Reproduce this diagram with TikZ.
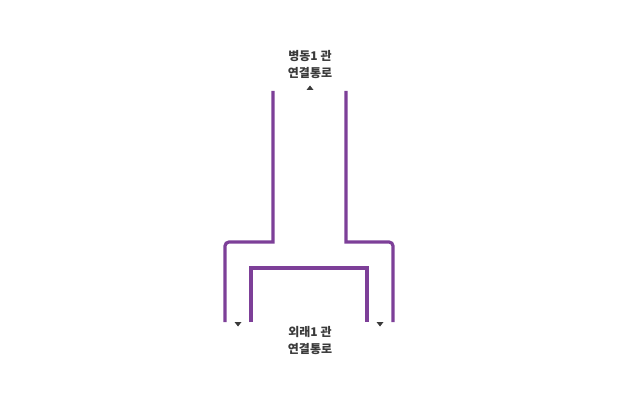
\documentclass[tikz,border=0pt]{standalone}
\usepackage{fontspec}
\newfontfamily\krfont{Noto Sans CJK KR}
\usepackage{tikz}
\usetikzlibrary{calc}
\definecolor{corridor}{HTML}{7D3F98}
\definecolor{labelgray}{HTML}{3A3A3A}
\tikzset{
	passage/.style={draw=corridor, line width=3.2pt},
	caption/.style={text=labelgray, font=\krfont\bfseries\fontsize{12}{17.5}\selectfont, align=center, inner sep=0pt},
	marker/.style={fill=labelgray, draw=none}
}

\begin{document}
\begin{tikzpicture}[x=1pt,y=-1pt]
			\useasboundingbox (0,0) rectangle (620,411);
			% upper ward corridor
			\node[caption] (ward) at (310,64.5) {병동1 관\\연결통로};
			\coordinate (wl) at (273,91);
			\coordinate (wr) at (346,91);
			\draw[passage] (wl)--(273,242) [rounded corners=4pt]--(225,242)--(225,322);
			\draw[passage] (wr)--(346,242) [rounded corners=4pt]--(393,242)--(393,322);
			% lower outpatient corridor
			\node[caption] (outp) at (310,340.5) {외래1 관\\연결통로};
			\draw[passage] (251,322)--(251,268)--(367,268)--(367,322);
			% direction markers
			\fill[marker] (306.5,90)--(313.5,90)--(310,85.5)--cycle;
			\fill[marker] (234.5,322)--(241.5,322)--(238,326.5)--cycle;
			\fill[marker] (376.5,322)--(383.5,322)--(380,326.5)--cycle;
		\end{tikzpicture}
\end{document}
